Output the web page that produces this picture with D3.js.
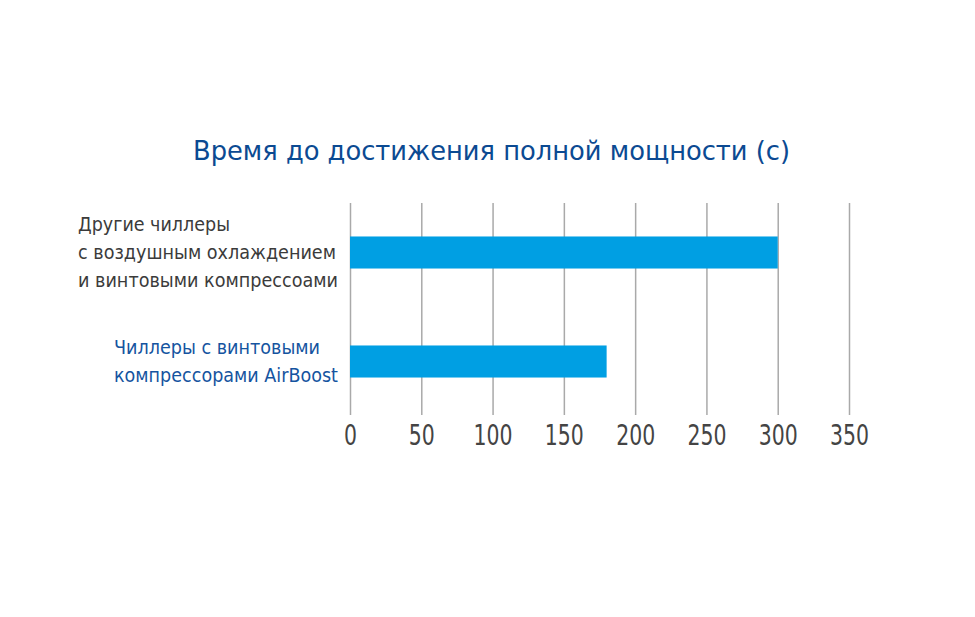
<!DOCTYPE html>
<html>
<head>
<meta charset="utf-8">
<script src="https://cdn.jsdelivr.net/npm/d3@7"></script>
<style>
  body { margin: 0; background: #fff; }
  text { font-family: "DejaVu Sans Condensed", "Liberation Sans Narrow", "Roboto", sans-serif; }
</style>
</head>
<body>
<div id="chart"></div>
<script>
// time to full capacity, seconds

var categories = ["other", "airboost"];
var values = [300, 180];
var labelLines = [
    ["Другие чиллеры", "с воздушным охлаждением", "и винтовыми компрессоами"],
    ["Чиллеры с винтовыми", "компрессорами AirBoost"]
];
var tickValues = [0, 50, 100, 150, 200, 250, 300, 350];
var title = "Время до достижения полной мощности (с)";

var width = 975, height = 617;

var svg = d3.select("#chart").append("svg")
    .attr("width", width)
    .attr("height", height);

var x = d3.scaleLinear().domain([0, 350]).range([350, 849]);
var y = d3.scaleBand().domain(categories).range([198, 416])
    .paddingInner(0.706).paddingOuter(0.353);

var gridTop = 203, gridBottom = 415;

// title
svg.append("text")
    .attr("x", 193)
    .attr("y", 160)
    .attr("fill", "#0b4a92")
    .attr("font-size", 27)
    .attr("textLength", 597)
    .attr("lengthAdjust", "spacingAndGlyphs")
    .text(title);

// grid + tick labels
var axis = d3.axisBottom(x)
    .tickValues(tickValues)
    .tickSize(-(gridBottom - gridTop))
    .tickPadding(9);

var gAxis = svg.append("g")
    .attr("transform", "translate(0," + gridBottom + ")")
    .call(axis);

gAxis.select(".domain").remove();
gAxis.selectAll(".tick line")
    .attr("stroke", "#a9a9a9")
    .attr("stroke-width", 1.5);
gAxis.selectAll(".tick text")
    .attr("fill", "#444")
    .attr("font-size", 29)
    .attr("textLength", function(d) { return String(d).length * 13; })
    .attr("lengthAdjust", "spacingAndGlyphs")
    .style("font-family", "'DejaVu Sans Condensed', sans-serif");

// bars
svg.selectAll("rect.bar")
    .data(categories)
    .enter().append("rect")
    .attr("class", "bar")
    .attr("x", x(0))
    .attr("y", function(d) { return y(d); })
    .attr("width", function(d, i) { return x(values[i]) - x(0); })
    .attr("height", y.bandwidth())
    .attr("fill", "#009fe3");

// category labels
var labelX = [78, 114];
var labelColor = ["#3b3b3b", "#1554a0"];
var labelWidths = [[152, 258, 260], [206, 224]];
var lineGap = 28;

categories.forEach(function(c, i) {
    var lines = labelLines[i];
    var mid = y(c) + y.bandwidth() / 2;
    var first = mid + 6 - (lines.length - 1) * lineGap / 2;
    lines.forEach(function(line, j) {
        svg.append("text")
            .attr("x", labelX[i])
            .attr("y", first + j * lineGap)
            .attr("fill", labelColor[i])
            .attr("font-size", 19)
            .attr("textLength", labelWidths[i][j])
            .attr("lengthAdjust", "spacingAndGlyphs")
            .text(line);
    });
});
</script>
</body>
</html>
